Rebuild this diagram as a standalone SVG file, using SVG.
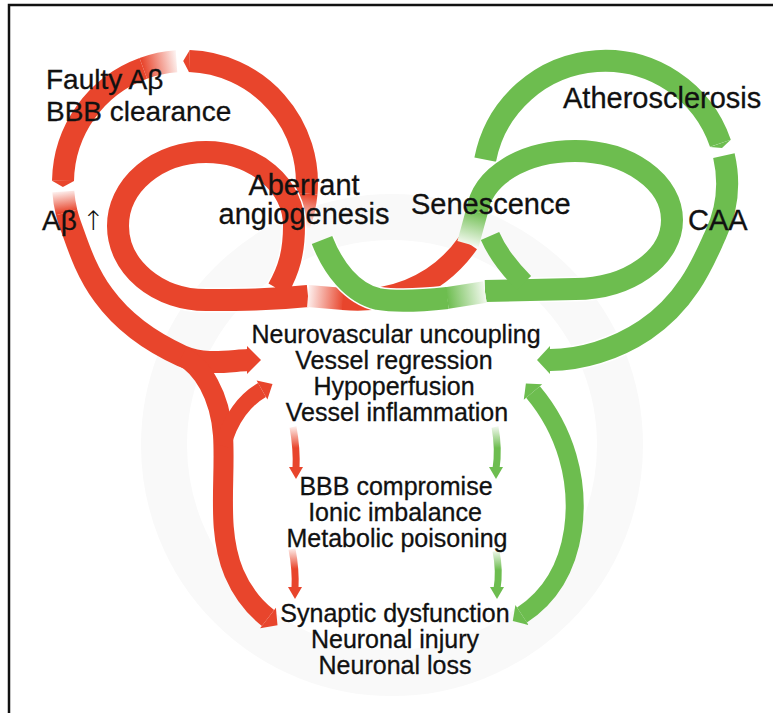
<svg xmlns="http://www.w3.org/2000/svg" width="773" height="713" viewBox="0 0 773 713">
<defs>
<style>
.b{fill:none;stroke-linecap:butt;stroke-linejoin:round}
.r{stroke:#e8452c}
.g{stroke:#6dbd4f}
.u{stroke:#ffffff}
.rf{fill:#e8452c}
.gf{fill:#6dbd4f}
.t{font-family:'Liberation Sans',Arial,'DejaVu Sans',sans-serif;fill:#111111;stroke:#111111;stroke-width:0.3}
.big{font-size:29px}
.mid{font-size:28px}
.sm{font-size:25px}
.arr{font-family:'DejaVu Sans',sans-serif;font-size:27px;font-weight:300;fill:#111111}
</style>
<linearGradient id="gRtop" gradientUnits="userSpaceOnUse" x1="300" y1="225" x2="306" y2="194"><stop offset="0" stop-color="#fdf0ee"/><stop offset="1" stop-color="#e8452c"/></linearGradient>
<linearGradient id="gRleft" gradientUnits="userSpaceOnUse" x1="177" y1="61" x2="143" y2="68"><stop offset="0" stop-color="#fdf0ee"/><stop offset="1" stop-color="#e8452c"/></linearGradient>
<linearGradient id="gRdown" gradientUnits="userSpaceOnUse" x1="63" y1="191" x2="66" y2="212"><stop offset="0" stop-color="#fdf0ee"/><stop offset="1" stop-color="#e8452c"/></linearGradient>
<linearGradient id="gRmid" gradientUnits="userSpaceOnUse" x1="308" y1="296" x2="344" y2="299"><stop offset="0" stop-color="#fdf0ee"/><stop offset="1" stop-color="#e8452c"/></linearGradient>
<linearGradient id="gGleft" gradientUnits="userSpaceOnUse" x1="468" y1="244" x2="477" y2="211"><stop offset="0" stop-color="#f1f8ed"/><stop offset="1" stop-color="#6dbd4f"/></linearGradient>
<linearGradient id="gGmid" gradientUnits="userSpaceOnUse" x1="485" y1="292" x2="447" y2="298"><stop offset="0" stop-color="#f1f8ed"/><stop offset="1" stop-color="#6dbd4f"/></linearGradient>
<linearGradient id="gSR" x1="0" y1="0" x2="0" y2="1"><stop offset="0" stop-color="#fdeae6"/><stop offset="0.5" stop-color="#e8452c"/></linearGradient>
<linearGradient id="gSG" x1="0" y1="0" x2="0" y2="1"><stop offset="0" stop-color="#eef7ea"/><stop offset="0.5" stop-color="#6dbd4f"/></linearGradient>
</defs>
<rect width="773" height="713" fill="#ffffff"/>
<circle cx="392" cy="445" r="228" fill="none" stroke="#f9f9f9" stroke-width="46"/>
<rect x="9" y="5" width="800" height="800" fill="none" stroke="#111" stroke-width="2.5"/>

<g id="connectors">
  <path class="b" stroke="url(#gRtop)" stroke-width="22" d="M299.6,224.7 A122,122 0 0 0 306.5,193.6"/>
  <path class="b r" stroke-width="22" d="M306.5,193.6 A122,122 0 0 0 189.3,61.1"/>
  <polygon class="rf" points="189.8,50 183.2,61 189.1,72.2"/>
  <path class="b" stroke="url(#gRleft)" stroke-width="22" d="M176.5,61.3 A122,122 0 0 0 143.3,68.4"/>
  <path class="b r" stroke-width="22" d="M143.3,68.4 A122,122 0 0 0 63,180.9"/>
  <polygon class="rf" points="52,180.7 62.9,187 74,181.1"/>
  <path class="b" stroke="url(#gRdown)" stroke-width="22" d="M63.3,191.5 A122,122 0 0 0 66.6,212.5"/>
  <path class="b r" stroke-width="22" d="M66.6,212.5 A122,122 0 0 0 70.4,224.7 C84,262 98,318 182,356 C205,366 228,361 248,360"/>
  <polygon class="rf" points="247,346 261,360 247,374"/>
  <path class="b r" stroke-width="20" d="M182,356 C202,366 220,395 223,435 C226,480 216,530 234,573 C243,594 255,608 268,618"/>
  <polygon class="rf" points="260.1,628.3 277.5,625.3 275.9,607.7"/>
  <path class="b r" stroke-width="16" d="M223,446 C230,418 246,399 262,390"/>
  <polygon class="rf" points="267.4,399.6 272.5,384.1 256.6,380.4"/>

  <path class="b u" stroke-width="25" d="M308,296 C270,300 240,300 206,300 A88,74 0 0 1 118,226 A88,74 0 0 1 206,152 A88,74 0 0 1 294,226 C294,252 289,270 278,289"/>
  <path class="b r" stroke-width="22" d="M308,296 C270,300 240,300 206,300 A88,74 0 0 1 118,226 A88,74 0 0 1 206,152 A88,74 0 0 1 294,226 C294,252 289,270 278,289"/>

  <path class="b" stroke="url(#gRmid)" stroke-width="22" d="M308,296 L344,299"/>
  <path class="b r" stroke-width="22" d="M343,299 C385,303 435,290 468,243"/>

  <path class="b g" stroke-width="22" d="M485.2,159.7 A122,122 0 0 1 720.4,143.3"/>
  <polygon class="gf" points="730.8,139.7 722,148 710,146.9"/>

  <path class="b" stroke="url(#gGleft)" stroke-width="22" d="M468,244 L477,211"/>
  <path class="b u" stroke-width="25" d="M477,212 C482,175 525,151 575,151 A97,69 0 0 1 672,220 A97,69 0 0 1 575,289 L485,291"/>
  <path class="b g" stroke-width="22" d="M477,212 C482,175 525,151 575,151 A97,69 0 0 1 672,220 A97,69 0 0 1 575,289 L485,291"/>
  <path class="b g" stroke-width="20" d="M490,236 C497,252 507,266 524,283"/>

  <path class="b u" stroke-width="25" d="M723.9,155.6 A122,122 0 0 1 715.6,234.6 C706,255 690,300 645,330 C615,350 580,360 550,360"/>
  <path class="b g" stroke-width="22" d="M723.9,155.6 A122,122 0 0 1 715.6,234.6 C706,255 690,300 645,330 C615,350 580,360 550,360"/>
  <polygon class="gf" points="550,346 537,360 550,374"/>

  <path class="b u" stroke-width="25" d="M485,292 L447,298 C420,301 395,302 378,299 C352,293 333,268 322,240"/>
  <path class="b" stroke="url(#gGmid)" stroke-width="22" d="M485,292 L447,298"/>
  <path class="b g" stroke-width="22" d="M447.5,298 C420,301 395,302 378,299 C352,293 333,268 322,240"/>

  <path class="b g" stroke-width="18" d="M533,392 C565,430 580,480 573,530 C567,570 548,598 522,615"/>
  <polygon class="gf" points="542.2,384.3 525.9,383.6 523.8,399.7"/>
  <polygon class="gf" points="515.4,605 512.8,621 528.6,625"/>

  <path class="b" stroke="url(#gSR)" stroke-width="7" d="M293,427 Q297,449 296,469"/>
  <polygon class="rf" points="289,467 303,467 296,479"/>
  <path class="b" stroke="url(#gSR)" stroke-width="7" d="M292,549 Q296,570 295,589"/>
  <polygon class="rf" points="288,587 302,587 295,599"/>
  <path class="b" stroke="url(#gSG)" stroke-width="7" d="M495,427 Q499,449 496,469"/>
  <polygon class="gf" points="489,467 503,467 496,479"/>
  <path class="b" stroke="url(#gSG)" stroke-width="7" d="M496,551 Q500,571 497,589"/>
  <polygon class="gf" points="490,587 504,587 497,599"/>
</g>

<g id="n-faulty"><text class="t mid" x="46" y="89">Faulty Aβ</text><text class="t mid" x="46" y="121">BBB clearance</text></g>
<g id="n-abeta"><text class="t mid" x="42" y="230">Aβ</text><text class="arr" x="82" y="230">↑</text></g>
<g id="n-aberrant"><text class="t big" x="304" y="195" text-anchor="middle">Aberrant</text><text class="t big" x="304" y="224" text-anchor="middle">angiogenesis</text></g>
<g id="n-senescence"><text class="t big" x="411" y="214">Senescence</text></g>
<g id="n-athero"><text class="t big" x="563" y="108">Atherosclerosis</text></g>
<g id="n-caa"><text class="t big" x="688" y="230">CAA</text></g>
<g id="n-vascular"><text class="t sm" text-anchor="middle" x="396" y="343">Neurovascular uncoupling</text><text class="t sm" text-anchor="middle" x="394" y="369">Vessel regression</text><text class="t sm" text-anchor="middle" x="394" y="395">Hypoperfusion</text><text class="t sm" text-anchor="middle" x="397" y="421">Vessel inflammation</text></g>
<g id="n-bbb"><text class="t sm" text-anchor="middle" x="396" y="495">BBB compromise</text><text class="t sm" text-anchor="middle" x="395" y="521">Ionic imbalance</text><text class="t sm" text-anchor="middle" x="397" y="547">Metabolic poisoning</text></g>
<g id="n-neuronal"><text class="t sm" text-anchor="middle" x="395" y="622">Synaptic dysfunction</text><text class="t sm" text-anchor="middle" x="395" y="648">Neuronal injury</text><text class="t sm" text-anchor="middle" x="395" y="674">Neuronal loss</text></g>
</svg>
